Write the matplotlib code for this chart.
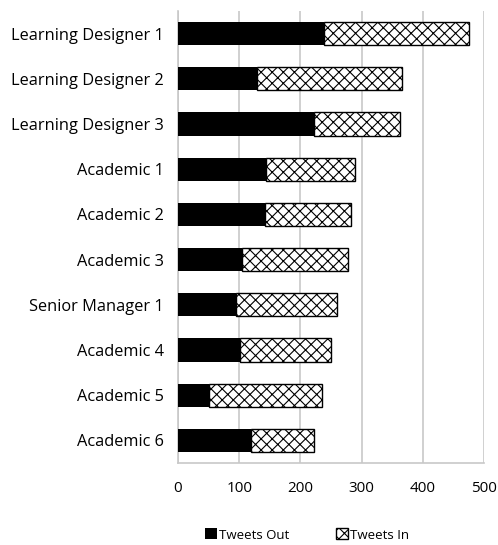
import matplotlib.pyplot as plt

# Werte
people = ['Learning Designer 1', 'Learning Designer 2', 'Learning Designer 3',
          'Academic 1', 'Academic 2', 'Academic 3', 'Senior Manager 1',
          'Academic 4', 'Academic 5', 'Academic 6']
tweets_out = [238, 129, 223, 143, 142, 105, 95, 102, 51, 120]
tweets_in = [238, 237, 139, 146, 140, 172, 165, 148, 185, 102]

plt.rcParams['font.family'] = ['Open Sans', 'DejaVu Sans']
plt.rcParams['hatch.linewidth'] = 0.8

fig = plt.figure(figsize=(4.98, 5.45), dpi=100)
ax = fig.add_axes([178 / 498, 1 - 463 / 545, (484 - 178) / 498, (463 - 11) / 545])

y = list(range(len(people)))[::-1]
ax.barh(y, tweets_out, height=0.51, color='black', label='Tweets Out', zorder=3)
ax.barh(y, tweets_in, left=tweets_out, height=0.51, color='white', edgecolor='black',
        hatch='xxx', linewidth=1.0, label='Tweets In', zorder=3)

ax.set_xlim(0, 500)
ax.set_ylim(-0.5, len(people) - 0.5)
ax.set_xticks([0, 100, 200, 300, 400, 500])
ax.set_yticks(y)
ax.set_yticklabels(people, fontsize=11.8)
ax.tick_params(axis='both', length=0, colors='black')
ax.tick_params(axis='x', pad=13, labelsize=11)
ax.tick_params(axis='y', pad=10)
ax.grid(axis='x', color='#c8c8c8', linewidth=1.2, zorder=0)
for side in ['top', 'right']:
    ax.spines[side].set_visible(False)
for side in ['left', 'bottom']:
    ax.spines[side].set_color('#c8c8c8')
    ax.spines[side].set_linewidth(1.2)

fig.legend(loc='center', bbox_to_anchor=(307 / 498, 1 - 535 / 545), ncol=2, frameon=False,
           fontsize=9.5, handlelength=0.9, handleheight=0.9, handletextpad=0.15,
           columnspacing=3.6)

fig.savefig('out.png', dpi=100)
